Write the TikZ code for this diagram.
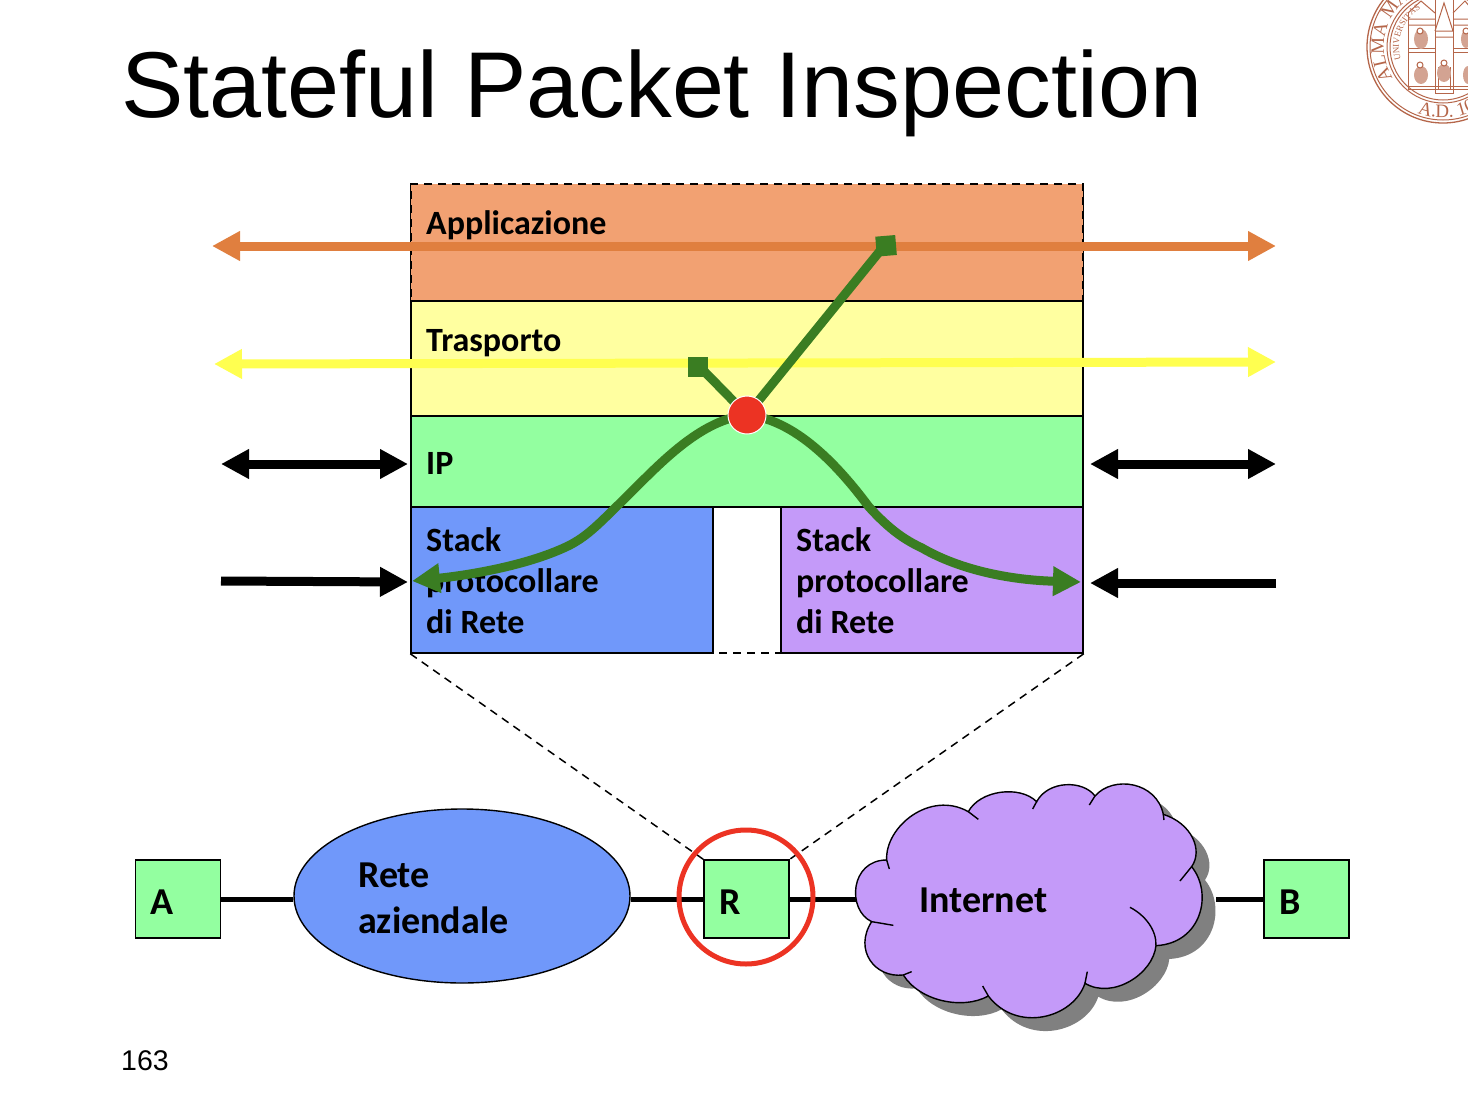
\documentclass[tikz,border=0pt]{standalone}
\usepackage{fontspec}
\setmainfont{Carlito}
\newfontfamily\titlefont{Liberation Sans}
\newfontfamily\sealfamily{Liberation Serif}
\usetikzlibrary{arrows.meta,shapes.geometric,decorations.text}

\definecolor{appfill}{HTML}{F2A172}
\definecolor{appline}{HTML}{E07F3F}
\definecolor{trafill}{HTML}{FFFFA0}
\definecolor{traline}{HTML}{FFFF50}
\definecolor{ipfill}{HTML}{93FFA0}
\definecolor{bluefill}{HTML}{7098FA}
\definecolor{lilac}{HTML}{C49AF9}
\definecolor{pathgreen}{HTML}{3A7D22}
\definecolor{hotred}{HTML}{EC3323}
\definecolor{sealbrown}{HTML}{B5664A}

\tikzset{
  layer/.style={draw=black,line width=1.4pt,inner sep=0pt,minimum width=672pt},
  lbl/.style={font=\bfseries\fontsize{34}{41}\selectfont,inner sep=0pt,align=left},
  biglbl/.style={font=\bfseries\fontsize{38}{46}\selectfont,inner sep=0pt,align=left},
  host/.style={draw=black,line width=1.4pt,fill=ipfill,inner sep=0pt,minimum width=85pt,minimum height=78pt},
  wire/.style={line width=5pt},
  zoomline/.style={line width=1.5pt,dash pattern=on 8pt off 6pt},
  peer/.style={line width=9pt,{Triangle[length=28pt,width=28pt]}-{Triangle[length=28pt,width=28pt]}},
  peerhead/.style={line width=9pt,-{Triangle[length=28pt,width=28pt]}},
  flow/.style={line width=9pt,draw=pathgreen},
  flowend/.style={flow,-{Triangle[length=28pt,width=28pt]}},
  flowtop/.style={flow,-{Square[length=20pt,width=20pt]}},
  sealline/.style={draw=sealbrown,line width=1pt},
  sealtext/.style={decorate,decoration={text along path,text color=sealbrown,text={#1},text align=left}},
}

\newcommand{\cloudoutline}{
  (140,270) .. controls (135,170) and (270,60) .. (385,125)
  .. controls (420,60) and (540,45) .. (590,95)
  .. controls (625,30) and (730,30) .. (765,78)
  .. controls (820,15) and (950,35) .. (970,133)
  .. controls (1055,160) and (1090,240) .. (1055,290)
  .. controls (1120,370) and (1085,520) .. (948,527)
  .. controls (940,610) and (820,690) .. (735,640)
  .. controls (700,745) and (530,790) .. (445,678)
  .. controls (370,720) and (240,695) .. (190,615)
  .. controls (105,625) and (40,540) .. (95,455)
  .. controls (20,420) and (30,270) .. (140,270) -- cycle
}

\begin{document}
\begin{tikzpicture}[x=1pt,y=-1pt]
  \useasboundingbox (0,0) rectangle (1468,1098);

  % seal, cut by the page edge
  \begin{scope}
    \clip (0,0) rectangle (1468,1098);
    \begin{scope}[shift={(1443,47)},y=1pt]
      \draw[sealline,line width=1.3pt] (0,0) circle (76);
      \draw[sealline] (0,0) circle (73);
      \draw[sealline] (0,0) circle (56);
      \draw[sealline] (0,0) circle (53);
      \path[sealtext={|\sealfamily\fontsize{19}{19}\selectfont|ALMA MA}]
        (212:59) arc[start angle=212,end angle=90,radius=59];
      \path[sealtext={|\sealfamily\fontsize{9}{9}\selectfont|UNIVERSITAS}]
        (197:44) arc[start angle=197,end angle=110,radius=44];
      \path[sealtext={|\sealfamily\fontsize{19}{19}\selectfont|A.D. 108}]
        (249:71) arc[start angle=249,end angle=318,radius=71];
      % front of the building
      \draw[sealline] (-35,-42) -- (-35,34) (-8,-42) -- (-8,50) (10,-42) -- (10,50) (32,-42) -- (32,34);
      \draw[sealline] (-35,-42) -- (40,-42) (-35,-39) -- (40,-39) (-35,-5) -- (-8,-5) (10,-5) -- (40,-5)
        (-35,-1) -- (-8,-1) (10,-1) -- (40,-1);
      \draw[sealline] (-35,34) -- (-22,46) -- (-8,34) (-35,28) -- (-8,28) (-35,22) -- (-8,22);
      \draw[sealline] (10,34) -- (22,46) -- (32,34) (10,28) -- (32,28) (10,22) -- (32,22);
      \draw[sealline] (-8,16) -- (1,44) -- (10,16) (-8,16) -- (10,16) (-8,10) -- (10,10);
      \draw[sealline] (-8,-42) -- (-8,-46) -- (10,-46) -- (10,-42) (-5,-42) -- (-5,-20) (7,-42) -- (7,-20);
      \fill[sealbrown!60] (-22,8) ellipse (7 and 10) (-22,-28) ellipse (7 and 9) (1,-26) ellipse (7 and 9)
        (23,8) ellipse (5 and 9) (25,-28) ellipse (5 and 9);
      \draw[sealline,fill=white] (-23,16) circle (3) (-23,-18) circle (3) (1,-16) circle (3) (23,16) circle (3);
    \end{scope}
  \end{scope}

  \node (title) at (121,93) [anchor=west,inner sep=0pt,font=\titlefont\fontsize{93.5}{93}\selectfont] {Stateful Packet Inspection};
  \node (pagenum) at (121,1061) [anchor=west,inner sep=0pt,font=\titlefont\fontsize{28.5}{30}\selectfont] {163};

  % protocol layers
  \node (app) at (747,242.5) [layer,draw=none,fill=appfill,minimum height=117pt] {};
  \node (tra) at (747,358.5) [layer,fill=trafill,minimum height=115pt] {};
  \node (ip) at (747,461.5) [layer,fill=ipfill,minimum height=91pt] {};
  \node (netl) at (562,580) [layer,fill=bluefill,minimum width=302pt,minimum height=146pt] {};
  \node (netr) at (932,580) [layer,fill=lilac,minimum width=302pt,minimum height=146pt] {};
  \draw[line width=1.4pt] (app.north west) -- (app.south west) -- (app.south east) -- (app.north east);
  \node (router) at (747,418.5) [draw=black,zoomline,inner sep=0pt,minimum width=672pt,minimum height=469pt] {};

  \node (lapp) at (426,225) [lbl,anchor=west] {Applicazione};
  \node (ltra) at (426,343) [lbl,anchor=west] {Trasporto};
  \node (lip) at (426,463) [lbl,anchor=west] {IP};
  \node (lnetl) at (426,527) [lbl,anchor=north west] {Stack\\protocollare\\di Rete};
  \node (lnetr) at (796,527) [lbl,anchor=north west] {Stack\\protocollare\\di Rete};

  % peer to peer arrows
  \coordinate (appw) at (212,246);
  \coordinate (appe) at (1276,246);
  \coordinate (traw) at (214,364);
  \coordinate (trae) at (1276,362);
  \coordinate (ipw) at (221,464);
  \coordinate (ipe) at (1276,464);
  \coordinate (netw) at (221,581);
  \coordinate (nete) at (1276,583);
  \coordinate (ipwi) at (408,464);
  \coordinate (ipei) at (1090,464);
  \coordinate (netwi) at (408,582);
  \coordinate (netei) at (1090,583);
  \draw[peer,draw=appline] (appw) -- (appe);
  \draw[peer,draw=traline] (traw) -- (trae);
  \draw[peer] (ipw) -- (ipwi);
  \draw[peer] (ipei) -- (ipe);
  \draw[peerhead] (netw) -- (netwi);
  \draw[peerhead] (nete) -- (netei);

  % path of the packet
  \coordinate (cross) at (747,415);
  \coordinate (tipapp) at (896,245);
  \coordinate (tiptra) at (688,367);
  \coordinate (tipl) at (412,581);
  \coordinate (tipr) at (1081,582);
  \draw[flowtop] (cross) -- (884,246) -- (tipapp);
  \draw[flowtop] (cross) -- (700,367) -- (tiptra);
  \draw[flowend] (cross) .. controls (695,420) and (650,475) .. (616,507)
    .. controls (595,528) and (585,537) .. (570,545)
    .. controls (530,565) and (470,575) .. (tipl);
  \draw[flowend] (cross) .. controls (800,420) and (845,475) .. (869,507)
    .. controls (890,530) and (905,540) .. (922,548)
    .. controls (960,570) and (1010,580) .. (tipr);
  \node (crossdot) at (cross) [circle,fill=hotred,draw=white,line width=1pt,inner sep=0pt,minimum size=38pt] {};

  % network below
  \node (hosta) at (178,899) [host] {};
  \node (hostr) at (746.5,899) [host] {};
  \node (hostb) at (1306.5,899) [host] {};
  \node (lan) at (462,896) [ellipse,draw=black,line width=1.4pt,fill=bluefill,inner sep=0pt,minimum width=336pt,minimum height=174pt] {};
  \coordinate (cloudw) at (856,899);
  \coordinate (cloude) at (1216,899);

  \draw[wire] (hosta.east) -- (hosta.east -| lan.west);
  \draw[wire] (hostr.west -| lan.east) -- (hostr.west);
  \draw[wire] (hostr.east) -- (cloudw);
  \draw[wire] (cloude) -- (hostb.west);
  \draw[zoomline] (router.south west) -- (hostr.north west);
  \draw[zoomline] (router.south east) -- (hostr.north east);

  \begin{scope}[shift={(840,770)},x=0.3333pt,y=-0.3333pt]
    \fill[black!50,shift={(40,40)}] \cloudoutline;
    \draw[fill=lilac,line width=1.4pt] \cloudoutline;
    \draw[line width=1.4pt] (385,125) -- (415,148) (590,95) -- (578,117) (765,78) -- (748,105)
      (970,133) -- (972,150) (1055,290) -- (1020,333) (735,640) -- (742,605)
      (445,678) -- (428,648) (190,615) -- (215,605) (95,455) -- (160,466) (140,270) -- (148,297);
    \draw[line width=1.4pt] (948,527) .. controls (950,480) and (915,435) .. (870,412);
  \end{scope}

  \node (lhosta) at (150,902) [biglbl,anchor=west] {A};
  \node (lhostr) at (719,902) [biglbl,anchor=west] {R};
  \node (lhostb) at (1279,902) [biglbl,anchor=west] {B};
  \node (llan) at (358,898) [biglbl,anchor=west] {Rete\\aziendale};
  \node (lcloud) at (919,900) [biglbl,anchor=west] {Internet};

  \node (focus) at (746,897) [circle,draw=hotred,line width=5pt,inner sep=0pt,minimum size=134pt] {};
\end{tikzpicture}
\end{document}
